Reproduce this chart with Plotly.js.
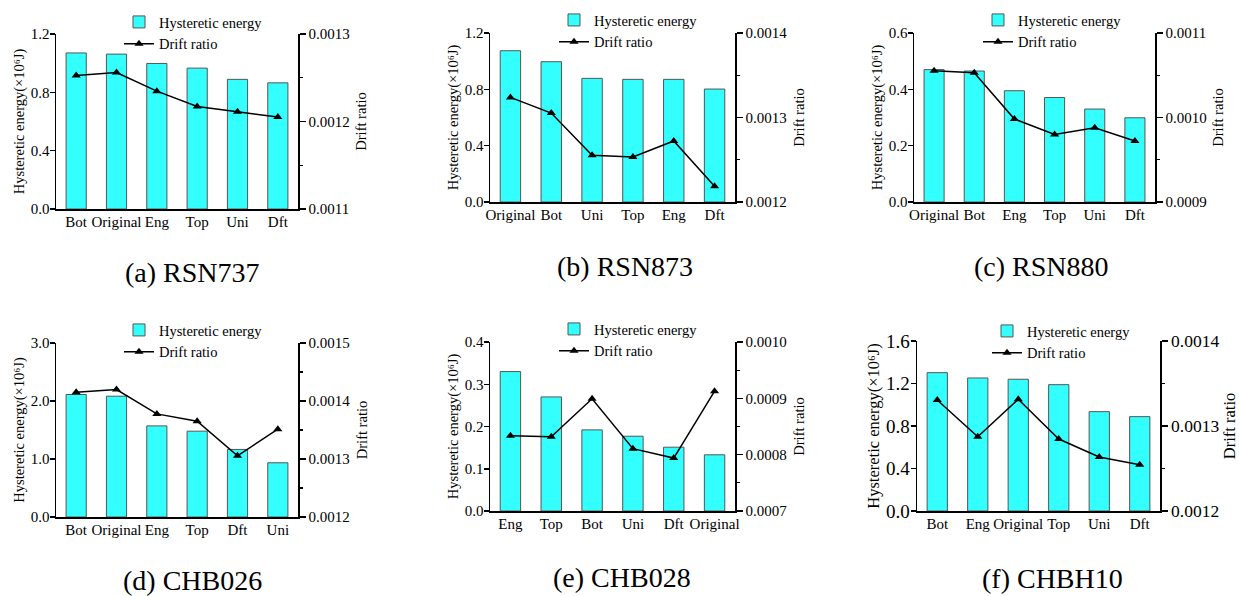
<!DOCTYPE html>
<html>
<head>
<meta charset="utf-8">
<script src="https://cdn.plot.ly/plotly-3.0.1.min.js"></script>
<style>
  html, body { margin: 0; padding: 0; background: #ffffff; }
  #chart { width: 1239px; height: 596px; }
</style>
</head>
<body>
<div id="chart"></div>
<script>
// ---------------- DATA ----------------
const catsA = ["Bot", "Original", "Eng", "Top", "Uni", "Dft"];
const energyA = [1.070, 1.062, 0.998, 0.966, 0.889, 0.865];
const driftA = [0.0012525, 0.0012560, 0.0012347, 0.0012172, 0.0012112, 0.0012051];

const catsB = ["Original", "Bot", "Uni", "Top", "Eng", "Dft"];
const energyB = [1.074, 0.996, 0.878, 0.871, 0.871, 0.802];
const driftB = [0.0013238, 0.0013053, 0.0012552, 0.0012533, 0.0012722, 0.0012185];

const catsC = ["Original", "Bot", "Eng", "Top", "Uni", "Dft"];
const energyC = [0.470, 0.465, 0.395, 0.371, 0.330, 0.299];
const driftC = [0.0010554, 0.0010530, 0.0009982, 0.0009800, 0.0009879, 0.0009722];

const catsD = ["Bot", "Original", "Eng", "Top", "Dft", "Uni"];
const energyD = [2.112, 2.083, 1.571, 1.480, 1.165, 0.935];
const driftD = [0.0014151, 0.0014198, 0.0013778, 0.0013652, 0.0013055, 0.0013515];

const catsE = ["Eng", "Top", "Bot", "Uni", "Dft", "Original"];
const energyE = [0.330, 0.270, 0.192, 0.177, 0.151, 0.133];
const driftE = [0.0008336, 0.0008318, 0.0008992, 0.0008106, 0.0007939, 0.0009127];

const catsF = ["Bot", "Eng", "Original", "Top", "Uni", "Dft"];
const energyF = [1.302, 1.252, 1.240, 1.189, 0.935, 0.888];
const driftF = [0.0013306, 0.0012874, 0.0013314, 0.0012847, 0.0012635, 0.0012545];

const captions = ["(a) RSN737", "(b) RSN873", "(c) RSN880", "(d) CHB026", "(e) CHB028", "(f) CHBH10"];
const energyRanges = [[0, 1.2], [0, 1.2], [0, 0.6], [0, 3.0], [0, 0.4], [0, 1.6]];
const energySteps = [0.4, 0.4, 0.2, 1.0, 0.1, 0.4];
const driftRanges = [[0.0011, 0.0013], [0.0012, 0.0014], [0.0009, 0.0011], [0.0012, 0.0015], [0.0007, 0.0010], [0.0012, 0.0014]];

// ---------------- LAYOUT GEOMETRY (pixels) ----------------
const W = 1239, H = 596;
const boxes = [
  {L: 56,  R: 298,  T: 34,  B: 209},
  {L: 490, R: 735,  T: 33,  B: 202},
  {L: 914, R: 1155, T: 33,  B: 202},
  {L: 56,  R: 298,  T: 343, B: 517},
  {L: 490, R: 735,  T: 342, B: 511},
  {L: 917, R: 1160, T: 341, B: 511}
];
const legendPos = [
  {x: 119, y: 6}, {x: 554, y: 4}, {x: 978, y: 4},
  {x: 119, y: 314}, {x: 554, y: 313}, {x: 987, y: 315}
];
const captionPos = [
  {x: 192, y: 272}, {x: 625, y: 266}, {x: 1041, y: 266},
  {x: 192, y: 580}, {x: 622, y: 577}, {x: 1052, y: 578}
];

const FONT = "'Liberation Serif', 'Times New Roman', Times, serif";
const CYAN = "#33ffff";

const panels = [
  {cats: catsA, energy: energyA, drift: driftA},
  {cats: catsB, energy: energyB, drift: driftB},
  {cats: catsC, energy: energyC, drift: driftC},
  {cats: catsD, energy: energyD, drift: driftD},
  {cats: catsE, energy: energyE, drift: driftE},
  {cats: catsF, energy: energyF, drift: driftF}
];

const traces = [];
const layout = {
  width: W, height: H,
  margin: {l: 0, r: 0, t: 0, b: 0},
  paper_bgcolor: "#ffffff",
  plot_bgcolor: "rgba(0,0,0,0)",
  font: {family: FONT, color: "#000000", size: 15},
  annotations: [],
  showlegend: true
};

panels.forEach((p, i) => {
  const n = i + 1;
  const xName = n === 1 ? "x" : "x" + n;
  const yLeft = 2 * i + 1, yRight = 2 * i + 2;
  const yLName = yLeft === 1 ? "y" : "y" + yLeft;
  const yRName = "y" + yRight;
  const legName = n === 1 ? "legend" : "legend" + n;
  const big = (i === 5);
  const b = boxes[i];

  traces.push({
    type: "bar", x: p.cats, y: p.energy, name: "Hysteretic energy",
    xaxis: xName, yaxis: yLName, legend: legName, width: 0.5,
    marker: {color: CYAN, line: {color: "#555555", width: 1}},
    hoverinfo: "skip"
  });
  traces.push({
    type: "scatter", mode: "lines+markers", x: p.cats, y: p.drift, name: "Drift ratio",
    xaxis: xName, yaxis: yRName, legend: legName,
    line: {color: "#000000", width: 1.5},
    marker: {symbol: "triangle-up", size: 8, color: "#000000"},
    hoverinfo: "skip"
  });

  const xKey = n === 1 ? "xaxis" : "xaxis" + n;
  const yLKey = yLeft === 1 ? "yaxis" : "yaxis" + yLeft;
  const yRKey = "yaxis" + yRight;

  layout[xKey] = {
    domain: [b.L / W, b.R / W],
    anchor: yLName,
    type: "category",
    range: [-0.5, 5.5],
    showline: true, linecolor: "#000000", linewidth: 1.5,
    ticks: "", showgrid: false, zeroline: false,
    ticklabelstandoff: -2,
    tickfont: {family: FONT, size: 15, color: "#000000"},
    fixedrange: true
  };
  layout[yLKey] = {
    domain: [1 - b.B / H, 1 - b.T / H],
    anchor: xName,
    range: energyRanges[i],
    dtick: energySteps[i], tick0: 0,
    tickformat: ".1f",
    showline: true, linecolor: "#000000", linewidth: 1.5,
    ticks: "outside", ticklen: 5, tickwidth: 1.5, tickcolor: "#000000",
    ticklabelstandoff: -3,
    showgrid: false, zeroline: false,
    tickfont: {family: FONT, size: big ? 19 : 15, color: "#000000"},
    title: {text: "Hysteretic energy(×10⁶J)", standoff: 2,
            font: {family: FONT, size: big ? 16.5 : 14.5, color: "#000000"}},
    fixedrange: true
  };
  layout[yRKey] = {
    overlaying: yLName,
    anchor: xName,
    side: "right",
    range: driftRanges[i],
    dtick: 0.0001, tick0: 0,
    tickformat: ".4f",
    showline: true, linecolor: "#000000", linewidth: 1.5,
    ticks: "outside", ticklen: 6, tickwidth: 1.5, tickcolor: "#000000",
    minor: {ticks: "outside", ticklen: 3, tickwidth: 1.2, tickcolor: "#000000", dtick: 0.00005, showgrid: false},
    showgrid: false, zeroline: false,
    tickfont: {family: FONT, size: big ? 17.5 : 15, color: "#000000"},
    title: {text: "Drift ratio", standoff: 7,
            font: {family: FONT, size: big ? 16.5 : 14.5, color: "#000000"}},
    fixedrange: true
  };

  const lg = legendPos[i];
  layout[legName] = {
    x: lg.x / W, y: 1 - lg.y / H,
    xanchor: "left", yanchor: "top",
    orientation: "v",
    bgcolor: "rgba(0,0,0,0)", borderwidth: 0,
    font: {family: FONT, size: 14.5, color: "#000000"},
    tracegroupgap: 0, itemwidth: 30, traceorder: "normal"
  };

  const cp = captionPos[i];
  layout.annotations.push({
    xref: "paper", yref: "paper",
    x: cp.x / W, y: 1 - cp.y / H,
    xanchor: "center", yanchor: "middle",
    text: captions[i], showarrow: false,
    font: {family: FONT, size: 28, color: "#000000"}
  });
});

Plotly.newPlot("chart", traces, layout, {displayModeBar: false, staticPlot: true});
</script>
</body>
</html>
